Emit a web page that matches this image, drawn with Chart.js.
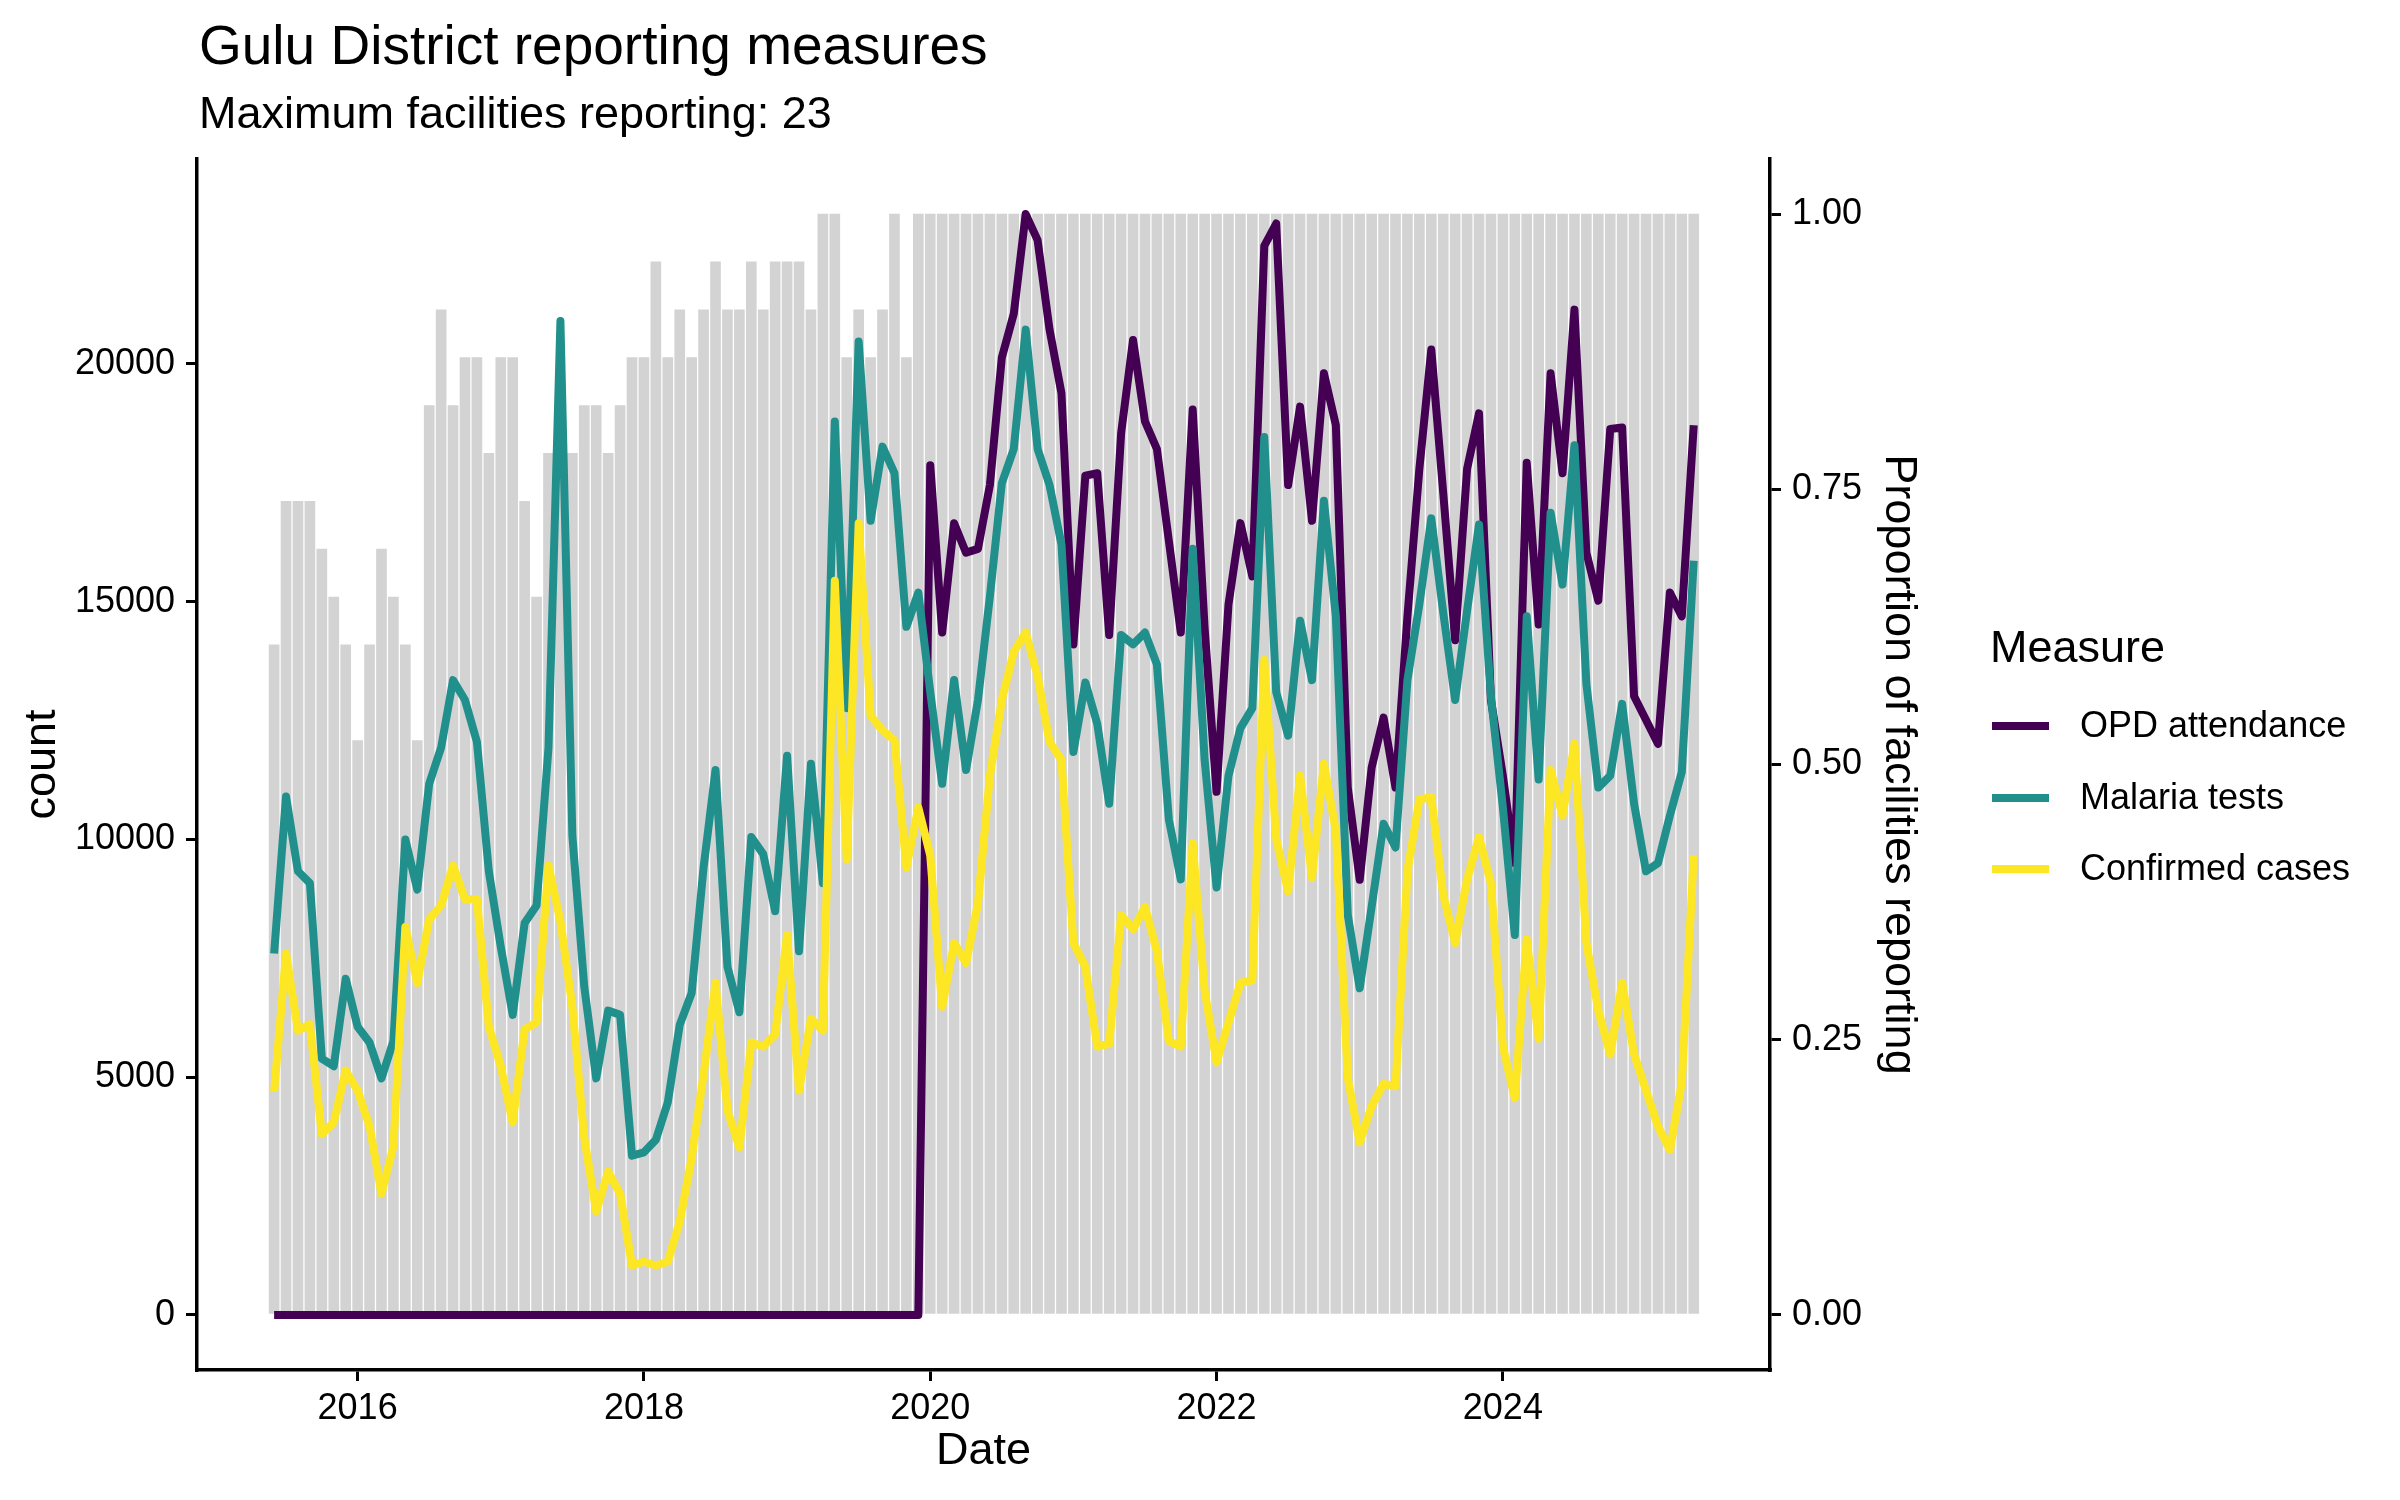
<!DOCTYPE html>
<html>
<head>
<meta charset="utf-8">
<script src="https://cdn.jsdelivr.net/npm/chart.js@4"></script>
<style>
  html, body { margin: 0; padding: 0; background: #fff; }
  #wrap { width: 2400px; height: 1500px; }
</style>
</head>
<body>
<div id="wrap"><canvas id="reportChart" width="2400" height="1500"></canvas></div>
<script>
const titleText = "Gulu District reporting measures";
const subtitleText = "Maximum facilities reporting: 23";

const months = [
  "2015-06", "2015-07", "2015-08", "2015-09", "2015-10", "2015-11", "2015-12",
  "2016-01", "2016-02", "2016-03", "2016-04", "2016-05", "2016-06", "2016-07", "2016-08", "2016-09", "2016-10", "2016-11", "2016-12",
  "2017-01", "2017-02", "2017-03", "2017-04", "2017-05", "2017-06", "2017-07", "2017-08", "2017-09", "2017-10", "2017-11", "2017-12",
  "2018-01", "2018-02", "2018-03", "2018-04", "2018-05", "2018-06", "2018-07", "2018-08", "2018-09", "2018-10", "2018-11", "2018-12",
  "2019-01", "2019-02", "2019-03", "2019-04", "2019-05", "2019-06", "2019-07", "2019-08", "2019-09", "2019-10", "2019-11", "2019-12",
  "2020-01", "2020-02", "2020-03", "2020-04", "2020-05", "2020-06", "2020-07", "2020-08", "2020-09", "2020-10", "2020-11", "2020-12",
  "2021-01", "2021-02", "2021-03", "2021-04", "2021-05", "2021-06", "2021-07", "2021-08", "2021-09", "2021-10", "2021-11", "2021-12",
  "2022-01", "2022-02", "2022-03", "2022-04", "2022-05", "2022-06", "2022-07", "2022-08", "2022-09", "2022-10", "2022-11", "2022-12",
  "2023-01", "2023-02", "2023-03", "2023-04", "2023-05", "2023-06", "2023-07", "2023-08", "2023-09", "2023-10", "2023-11", "2023-12",
  "2024-01", "2024-02", "2024-03", "2024-04", "2024-05", "2024-06", "2024-07", "2024-08", "2024-09", "2024-10", "2024-11", "2024-12",
  "2025-01", "2025-02", "2025-03", "2025-04", "2025-05"
];

// facilities reporting each month (out of 23)
const maxFacilities = 23;
const facilities = [
  14, 17, 17, 17, 16, 15, 14,
  12, 14, 16, 15, 14, 12, 19, 21, 19, 20, 20, 18,
  20, 20, 17, 15, 18, 18, 18, 19, 19, 18, 19, 20,
  20, 22, 20, 21, 20, 21, 22, 21, 21, 22, 21, 22,
  22, 22, 21, 23, 23, 20, 21, 20, 21, 23, 20, 23,
  23, 23, 23, 23, 23, 23, 23, 23, 23, 23, 23, 23,
  23, 23, 23, 23, 23, 23, 23, 23, 23, 23, 23, 23,
  23, 23, 23, 23, 23, 23, 23, 23, 23, 23, 23, 23,
  23, 23, 23, 23, 23, 23, 23, 23, 23, 23, 23, 23,
  23, 23, 23, 23, 23, 23, 23, 23, 23, 23, 23, 23,
  23, 23, 23, 23, 23
];

const opdAttendance = [
  0, 0, 0, 0, 0, 0, 0,
  0, 0, 0, 0, 0, 0, 0, 0, 0, 0, 0, 0,
  0, 0, 0, 0, 0, 0, 0, 0, 0, 0, 0, 0,
  0, 0, 0, 0, 0, 0, 0, 0, 0, 0, 0, 0,
  0, 0, 0, 0, 0, 0, 0, 0, 0, 0, 0, 0,
  17870, 14350, 16650, 16030, 16110, 17450, 20130, 21050, 23150, 22600, 20720, 19380,
  14100, 17650, 17700, 14300, 18540, 20500, 18790, 18210, 16280, 14350, 19040, 14440,
  11000, 14940, 16650, 15530, 22480, 22950, 17450, 19100, 16700, 19800, 18710, 11090,
  9150, 11510, 12560, 11090, 14690, 17790, 20300, 17290, 14190, 17790, 18960, 12930,
  11340, 9500, 17920, 14520, 19800, 17700, 21140, 16030, 15020, 18630, 18660, 13010,
  12510, 12010, 15190, 14690, 18710
];

const malariaTests = [
  7600, 10900, 9330, 9080, 5390, 5230, 7070,
  6060, 5730, 4975, 5760, 10000, 8945, 11170, 11930, 13350, 12930, 12050, 9330,
  7740, 6310, 8240, 8610, 11930, 20900, 10080, 6900, 4975, 6400, 6310, 3350,
  3420, 3685, 4470, 6100, 6770, 9410, 11460, 7320, 6365, 10050, 9690, 8490,
  11760, 7650, 11590, 9080, 18790, 12760, 20470, 16700, 18260, 17700, 14470, 15190,
  13100, 11170, 13350, 11460, 12930, 15110, 17490, 18210, 20720, 18210, 17450, 16200,
  11840, 13300, 12430, 10750, 14300, 14100, 14350, 13680, 10420, 9160, 16110, 11670,
  8990, 11340, 12340, 12760, 18460, 13100, 12180, 14600, 13350, 17120, 14690, 8410,
  6870, 8580, 10330, 9830, 13350, 14940, 16750, 14770, 12930, 14810, 16620, 13010,
  10670, 7990, 14690, 11260, 16870, 15360, 18290, 13270, 11090, 11340, 12850, 10750,
  9330, 9500, 10500, 11420, 15860
];

const confirmedCases = [
  4700, 7600, 5980, 6110, 3800, 4050, 5140,
  4720, 3970, 2550, 3550, 8160, 6980, 8320, 8610, 9450, 8740, 8740, 6060,
  5230, 4050, 6010, 6150, 9450, 8270, 6480, 3720, 2180, 3015, 2550, 1040,
  1120, 1040, 1120, 1960, 3300, 5060, 6985, 4300, 3520, 5730, 5645, 5900,
  7990, 4720, 6230, 5980, 15440, 9580, 16650, 12600, 12290, 12090, 9410, 10670,
  9660, 6480, 7820, 7400, 8660, 11340, 12930, 13940, 14350, 13430, 12050, 11670,
  7820, 7320, 5645, 5700, 8410, 8110, 8580, 7650, 5760, 5645, 9920, 6820,
  5310, 6150, 6985, 7035, 13770, 10000, 8910, 11340, 9200, 11590, 10170, 4975,
  3630, 4390, 4860, 4810, 9330, 10840, 10890, 8830, 7820, 9160, 10050, 9080,
  5645, 4560, 7900, 5810, 11460, 10500, 12010, 7820, 6400, 5480, 6985, 5480,
  4720, 3970, 3470, 4890, 9660
];

const measureNames = ["OPD attendance", "Malaria tests", "Confirmed cases"];
const measureColors = ["#440154", "#21908C", "#FDE725"];
const barColor = "#D3D3D3";

const yearTicks = [2016, 2018, 2020, 2022, 2024];
const countTicks = [0, 5000, 10000, 15000, 20000];
const propTicks = [0, 0.25, 0.5, 0.75, 1];

// month label -> decimal year
const xs = months.map((m) => {
  const [yy, mm] = m.split("-").map(Number);
  return yy + (mm - 1) / 12;
});

const maxCount = Math.max(...opdAttendance, ...malariaTests, ...confirmedCases);
const FONT = '"Liberation Sans", Arial, sans-serif';

const toPoints = (vals) => vals.map((v, i) => ({ x: xs[i], y: v }));

const lineSet = (idx, vals, order) => ({
  type: "line",
  label: measureNames[idx],
  data: toPoints(vals),
  borderColor: measureColors[idx],
  backgroundColor: measureColors[idx],
  borderWidth: 8,
  borderJoinStyle: "round",
  borderCapStyle: "butt",
  pointRadius: 0,
  tension: 0,
  yAxisID: "y",
  order: order,
});

// title, subtitle and legend, ggplot style
const decorations = {
  id: "decorations",
  afterDraw(chart) {
    const ctx = chart.ctx;
    const area = chart.chartArea;
    ctx.save();
    ctx.fillStyle = "#000";
    ctx.textAlign = "left";
    ctx.textBaseline = "alphabetic";
    ctx.font = "55px " + FONT;
    ctx.fillText(titleText, area.left + 2, 64);
    ctx.font = "45px " + FONT;
    ctx.fillText(subtitleText, area.left + 2, 128);

    ctx.fillText("Measure", 1990, 662);
    const keyY = [726, 798, 869];
    measureNames.forEach((name, i) => {
      ctx.strokeStyle = measureColors[i];
      ctx.lineWidth = 8;
      ctx.beginPath();
      ctx.moveTo(1992, keyY[i]);
      ctx.lineTo(2049, keyY[i]);
      ctx.stroke();
      ctx.font = "36px " + FONT;
      ctx.textBaseline = "middle";
      ctx.fillStyle = "#000";
      ctx.fillText(name, 2080, keyY[i] + 1);
    });
    ctx.restore();
  },
};

const axisGrid = { display: true, drawOnChartArea: false, offset: false, color: "#000", lineWidth: 3, tickLength: 11 };
const axisBorder = { display: true, color: "#000", width: 3.5 };
const tickFont = { family: FONT, size: 36 };
const titleFont = { family: FONT, size: 45 };

new Chart("reportChart", {
  type: "bar",
  data: {
    datasets: [
      lineSet(0, opdAttendance, 3),
      lineSet(1, malariaTests, 2),
      lineSet(2, confirmedCases, 1),
      {
        type: "bar",
        label: "Proportion reporting",
        data: facilities.map((f, i) => ({ x: xs[i], y: f / maxFacilities })),
        backgroundColor: barColor,
        borderWidth: 0,
        barThickness: 10,
        yAxisID: "y2",
        order: 4,
      },
    ],
  },
  options: {
    responsive: false,
    devicePixelRatio: 1,
    animation: false,
    layout: { padding: { left: 0, right: 460, top: 159, bottom: 0 } },
    plugins: {
      legend: { display: false },
      title: { display: false },
      tooltip: { enabled: false },
    },
    scales: {
      x: {
        type: "linear",
        min: 2014.878,
        max: 2025.866,
        offset: false,
        grid: axisGrid,
        border: axisBorder,
        afterBuildTicks: (s) => { s.ticks = yearTicks.map((v) => ({ value: v })); },
        afterFit: (s) => { s.height = 130; },
        ticks: { font: tickFont, color: "#000", padding: 6, maxRotation: 0, callback: (v) => String(v) },
        title: { display: true, text: "Date", font: titleFont, color: "#000", padding: { top: 0, bottom: 21 } },
      },
      y: {
        type: "linear",
        position: "left",
        min: -0.05 * maxCount,
        max: 1.05 * maxCount,
        grid: axisGrid,
        border: axisBorder,
        afterBuildTicks: (s) => { s.ticks = countTicks.map((v) => ({ value: v })); },
        afterFit: (s) => { s.width = 197; },
        ticks: { font: tickFont, color: "#000", padding: 11, callback: (v) => String(v) },
        title: { display: true, text: "count", font: titleFont, color: "#000", padding: { top: 16, bottom: 0 } },
      },
      y2: {
        type: "linear",
        position: "right",
        min: -0.05,
        max: 1.05,
        grid: axisGrid,
        border: axisBorder,
        afterBuildTicks: (s) => { s.ticks = propTicks.map((v) => ({ value: v })); },
        afterFit: (s) => { s.width = 170; },
        ticks: { font: tickFont, color: "#000", padding: 11, callback: (v) => v.toFixed(2) },
        title: { display: true, text: "Proportion of facilities reporting", font: titleFont, color: "#000", padding: { top: 15, bottom: 0 } },
      },
    },
  },
  plugins: [decorations],
});
</script>
</body>
</html>
